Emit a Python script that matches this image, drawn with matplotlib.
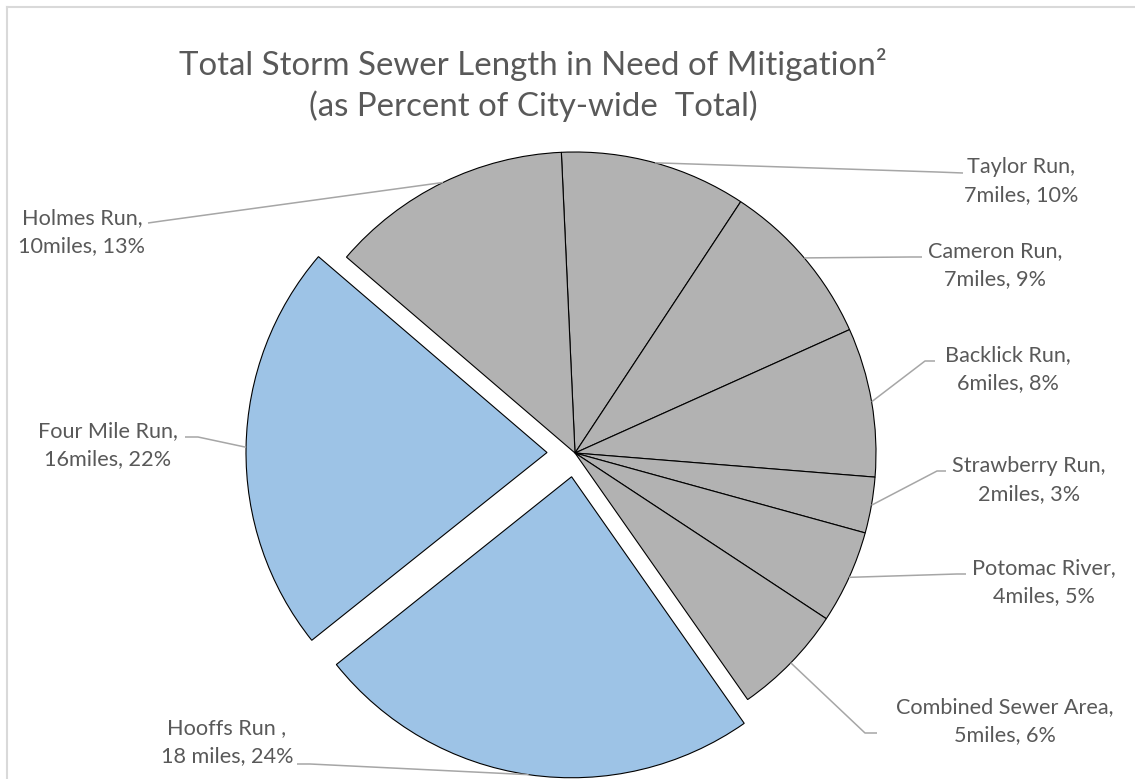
import numpy as np
import matplotlib.pyplot as plt
from matplotlib.lines import Line2D

W, H = 1135, 779

# slice data (clockwise from the top)
names = ['Taylor Run', 'Cameron Run', 'Backlick Run', 'Strawberry Run', 'Potomac River',
         'Combined Sewer Area', 'Hooffs Run ', 'Four Mile Run', 'Holmes Run']
miles = ['7miles', '7miles', '6miles', '2miles', '4miles', '5miles', '18 miles', '16miles', '10miles']
pct = [10, 9, 8, 3, 5, 6, 24, 22, 13]
highlight = [False, False, False, False, False, False, True, True, False]

# label layout in image pixels: text centre, elbow of leader, leader end at text
label_pos = [(1021, 181), (995, 265), (1008, 369), (1029, 480), (1044, 582),
             (1005, 721), (227, 742), (108, 445), (82, 232)]
elbows = [(937, 172), (910, 257), (925, 361), (937, 471), (957, 574),
          (865, 733), (310, 764), (198, 437), (162, 221)]
text_ends = [(963, 173), (922, 257), (935, 361), (946, 471), (966, 574),
             (877, 733), (297, 764), (185, 437), (148, 223)]
# pixel offset of the pulled-out slices
explode = [0, 0, 0, 0, 0, 0, 24, 28, 0]

txt_col = '#595959'
lead_col = '#A6A6A6'
plt.rcParams['font.family'] = ['Lato', 'DejaVu Sans']

fig = plt.figure(figsize=(W / 100, H / 100), dpi=100)
ax = fig.add_axes([0, 0, 1, 1])

cx, cy, rad = 575, H - 453, 301
colors = ['#9DC3E6' if h else '#B2B2B2' for h in highlight]
wedges, _ = ax.pie(pct, explode=explode, colors=colors, startangle=92.6, counterclock=False,
                   radius=rad, center=(cx, cy), frame=True,
                   wedgeprops=dict(edgecolor='black', linewidth=0.8))
ax.set_xlim(0, W)
ax.set_ylim(0, H)
ax.axis('off')

for i, w in enumerate(wedges):
    mid = np.deg2rad((w.theta1 + w.theta2) / 2)
    ox, oy = w.center
    ax_pt = (ox + w.r * np.cos(mid), oy + w.r * np.sin(mid))
    ex, ey = elbows[i]
    tx, ty = text_ends[i]
    ax.plot([ax_pt[0], ex, tx], [ax_pt[1], H - ey, H - ty], color=lead_col, lw=1.1,
            solid_capstyle='butt', zorder=1)
    lx, ly = label_pos[i]
    ax.text(lx, H - ly, f'{names[i]},\n{miles[i]}, {pct[i]}%', ha='center', va='center',
            fontsize=15.6, color=txt_col, linespacing=1.55)

ax.text(533, H - 85, 'Total Storm Sewer Length in Need of Mitigation\u00b2\n(as Percent of City-wide  Total)',
        ha='center', va='center', fontsize=23.8, color=txt_col, linespacing=1.33)

# chart border (top and left visible)
fig.add_artist(Line2D([7 / W, 1], [1 - 7 / H, 1 - 7 / H], color='#D9D9D9', lw=1.5))
fig.add_artist(Line2D([7 / W, 7 / W], [0, 1 - 7 / H], color='#D9D9D9', lw=1.5))

fig.savefig('out.png', dpi=100)
